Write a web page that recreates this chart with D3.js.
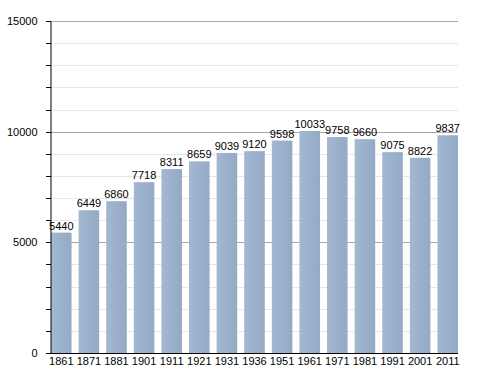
<!DOCTYPE html>
<html>
<head>
<script src="https://d3js.org/d3.v7.min.js"></script>
<style>
  body{margin:0;background:#fff;}
  text{font-family:"Liberation Sans",Arial,sans-serif;font-size:11px;fill:#000;}
</style>
</head>
<body>
<svg id="chart" width="488" height="373"></svg>
<script>
const years=["1861","1871","1881","1901","1911","1921","1931","1936","1951","1961","1971","1981","1991","2001","2011"];
const population=[5440,6449,6860,7718,8311,8659,9039,9120,9598,10033,9758,9660,9075,8822,9837];
const yTicks=[0,5000,10000,15000];

let svg=d3.select("#chart");
let plotLeft=51, plotRight=458, plotTop=21, plotBottom=353;

let x=d3.scaleBand().domain(years).range([plotLeft,plotRight]).paddingInner(0.255).paddingOuter(0);
let y=d3.scaleLinear().domain([0,15000]).range([plotBottom,plotTop]);

let defs=svg.append("defs");
let grad=defs.append("linearGradient").attr("id","barGrad").attr("x1","0").attr("x2","1");
grad.append("stop").attr("offset","0").attr("stop-color","#a3b8d1");
grad.append("stop").attr("offset","0.5").attr("stop-color","#9ab0cb");
grad.append("stop").attr("offset","1").attr("stop-color","#94abc7");

// minor gridlines
let minor=d3.range(1000,15000,1000).filter(d=>d%5000!=0);
svg.append("g").selectAll("line").data(minor).join("line")
  .attr("x1",plotLeft).attr("x2",plotRight)
  .attr("y1",d=>Math.round(y(d))+0.5).attr("y2",d=>Math.round(y(d))+0.5)
  .attr("stroke","#e6e6e6");
svg.append("g").selectAll("line").data(yTicks.slice(1)).join("line")
  .attr("x1",plotLeft).attr("x2",plotRight)
  .attr("y1",d=>Math.round(y(d))+0.5).attr("y2",d=>Math.round(y(d))+0.5)
  .attr("stroke","#a8a8a8");

// bars
svg.append("g").selectAll("rect").data(population).join("rect")
  .attr("x",(d,i)=>x(years[i]))
  .attr("width",x.bandwidth())
  .attr("y",d=>y(d))
  .attr("height",d=>plotBottom-y(d))
  .attr("fill","url(#barGrad)");

// value labels
svg.append("g").selectAll("text").data(population).join("text")
  .attr("x",(d,i)=>x(years[i])+x.bandwidth()/2)
  .attr("y",d=>y(d)-3)
  .attr("text-anchor","middle")
  .text(d=>d);

// y axis
let yAxis=d3.axisLeft(y).tickValues(yTicks).tickSize(0).tickPadding(13).tickFormat(d3.format("d"));
let ya=svg.append("g").attr("transform",`translate(${plotLeft-0.5},0)`).call(yAxis);
ya.select(".domain").attr("stroke","#000");
ya.selectAll("text").style("font-family","Liberation Sans, Arial, sans-serif").style("font-size","11px");
svg.append("g").selectAll("line").data(d3.range(0,15001,1000)).join("line")
  .attr("x1",plotLeft-5).attr("x2",plotLeft)
  .attr("y1",d=>Math.round(y(d))+0.5).attr("y2",d=>Math.round(y(d))+0.5)
  .attr("stroke","#000");

// x axis
let xAxis=d3.axisBottom(x).tickSize(0).tickPadding(4);
let xa=svg.append("g").attr("transform",`translate(0,${plotBottom+0.5})`).call(xAxis);
xa.select(".domain").attr("stroke","#000").attr("d",`M${plotLeft-1},0H${plotRight}`);
xa.selectAll("text").style("font-family","Liberation Sans, Arial, sans-serif").style("font-size","11px");
</script>
</body>
</html>
